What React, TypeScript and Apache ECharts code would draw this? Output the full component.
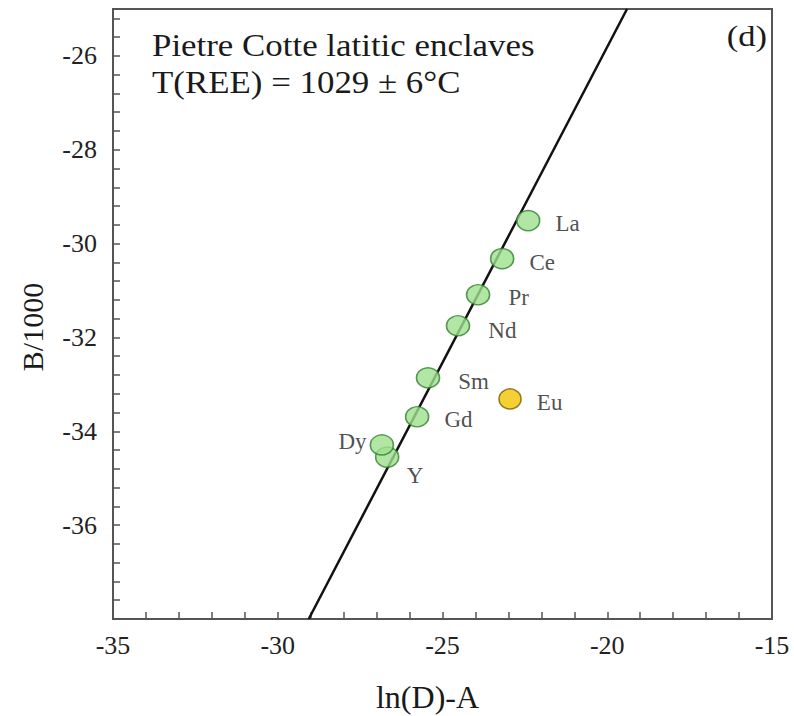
import React, { useEffect, useRef } from "react";
import * as echarts from "echarts";

// ---- data ----
const elements = ["La", "Ce", "Pr", "Nd", "Sm", "Gd", "Y", "Dy"];
const xValues = [-22.4, -23.19, -23.92, -24.53, -25.44, -25.77, -26.68, -26.84];
const yValues = [-29.51, -30.32, -31.09, -31.75, -32.86, -33.69, -34.55, -34.29];

const anomalyElements = ["Eu"];
const anomalyX = [-22.95];
const anomalyY = [-33.31];

const fitLineX = [-29.06, -19.4];
const fitLineY = [-38, -25];

const xMin = -35;
const xMax = -15;
const yMin = -38;
const yMax = -25;

const titleLines = ["Pietre Cotte latitic enclaves", "T(REE) = 1029 ± 6°C"];
const panelLabel = "(d)";
const xName = "ln(D)-A";
const yName = "B/1000";

const SERIF = '"Liberation Serif", "Times New Roman", serif';

const labelStyles: Record<string, any> = {
  La: { position: "right", distance: 15, offset: [0, 3] },
  Ce: { position: "right", distance: 15, offset: [0, 4] },
  Pr: { position: "right", distance: 18, offset: [0, 3] },
  Nd: { position: "right", distance: 18, offset: [0, 5] },
  Sm: { position: "right", distance: 18, offset: [0, 4] },
  Gd: { position: "right", distance: 15, offset: [0, 3] },
  Dy: { position: "left", distance: 3, offset: [0, -3] },
  Y: { position: "inside", offset: [28, 18] },
  Eu: { position: "right", distance: 15, offset: [0, 4] },
};

function isMultiple(v: number, m: number) {
  const r = v / m;
  return Math.abs(r - Math.round(r)) < 1e-6;
}

export default function App() {
  const ref = useRef<HTMLDivElement>(null);

  useEffect(() => {
    document.body.style.margin = "0";
    if (!ref.current) return;
    const chart = echarts.init(ref.current, null, { renderer: "svg" });

    const mkPoints = (names: string[], xs: number[], ys: number[]) =>
      names.map((n, i) => ({
        name: n,
        value: [xs[i], ys[i]],
        label: { show: true, formatter: n, ...labelStyles[n] },
      }));

    const axisLineStyle = { color: "#555", width: 2 };

    chart.setOption({
      animation: false,
      backgroundColor: "#ffffff",
      grid: {
        left: 113,
        right: 22,
        top: 9,
        bottom: 97,
        show: true,
        borderColor: "#555",
        borderWidth: 2,
        outerBoundsMode: "none",
      },
      xAxis: {
        type: "value",
        min: xMin,
        max: xMax,
        interval: 1,
        name: xName,
        nameLocation: "middle",
        nameGap: 62,
        nameTextStyle: {
          fontFamily: SERIF,
          fontSize: 32,
          color: "#1a1a1a",
          padding: [0, 30, 0, 0],
        },
        axisLine: { show: true, lineStyle: axisLineStyle },
        axisTick: { show: true, inside: true, length: 7, lineStyle: { color: "#555", width: 1.5 } },
        splitLine: { show: false },
        axisLabel: {
          margin: 13,
          fontFamily: SERIF,
          fontSize: 26,
          color: "#222",
          formatter: (v: number) => (isMultiple(v, 5) ? String(Math.round(v)) : ""),
        },
      },
      yAxis: {
        type: "value",
        min: yMin,
        max: yMax,
        interval: 0.4,
        name: yName,
        nameLocation: "middle",
        nameGap: 66,
        nameTextStyle: {
          fontFamily: SERIF,
          fontSize: 30,
          color: "#1a1a1a",
          padding: [0, 26, 0, 0],
        },
        axisLine: { show: true, lineStyle: axisLineStyle },
        axisTick: { show: true, inside: true, length: 7, lineStyle: { color: "#555", width: 1.5 } },
        splitLine: { show: false },
        axisLabel: {
          margin: 16,
          fontFamily: SERIF,
          fontSize: 26,
          color: "#222",
          formatter: (v: number) =>
            isMultiple(v, 2) && Math.round(v) !== yMin ? String(Math.round(v)) : "",
        },
      },
      graphic: [
        {
          type: "text",
          x: 152,
          y: 45,
          scaleX: 1.09,
          style: {
            text: titleLines[0],
            fontFamily: SERIF,
            fontSize: 32,
            fill: "#1a1a1a",
            align: "left",
            verticalAlign: "middle",
          },
        },
        {
          type: "text",
          x: 152,
          y: 82,
          scaleX: 1.09,
          style: {
            text: titleLines[1],
            fontFamily: SERIF,
            fontSize: 32,
            fill: "#1a1a1a",
            align: "left",
            verticalAlign: "middle",
          },
        },
        {
          type: "text",
          x: 767,
          y: 36,
          scaleX: 1.15,
          style: {
            text: panelLabel,
            fontFamily: SERIF,
            fontSize: 30,
            fill: "#1a1a1a",
            align: "right",
            verticalAlign: "middle",
          },
        },
      ],
      series: [
        {
          type: "line",
          data: fitLineX.map((x, i) => [x, fitLineY[i]]),
          showSymbol: false,
          symbol: "none",
          lineStyle: { color: "#111", width: 2.5 },
          z: 1,
          silent: true,
        },
        {
          type: "scatter",
          data: mkPoints(elements, xValues, yValues),
          symbol: "circle",
          symbolSize: [23, 20],
          itemStyle: { color: "#9fe08f", borderColor: "#2f7f2c", borderWidth: 1.5 },
          label: { fontFamily: SERIF, fontSize: 23, color: "#222" },
          z: 3,
        },
        {
          type: "scatter",
          data: mkPoints(anomalyElements, anomalyX, anomalyY),
          symbol: "circle",
          symbolSize: [22, 20],
          itemStyle: { color: "#f0c400", borderColor: "#7a5a00", borderWidth: 1.5 },
          label: { fontFamily: SERIF, fontSize: 23, color: "#222" },
          z: 3,
        },
      ],
    });

    return () => chart.dispose();
  }, []);

  return <div ref={ref} style={{ width: 794, height: 716 }} />;
}
